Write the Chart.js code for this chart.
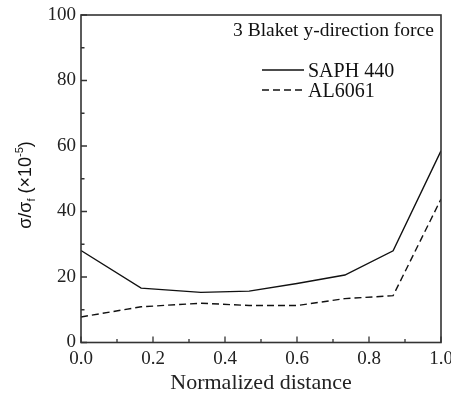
<!DOCTYPE html>
<html lang="en">
<head>
    <meta charset="UTF-8">
    <title>3 Blaket y-direction force</title>
    <script src="https://cdn.jsdelivr.net/npm/chart.js@4.4.1/dist/chart.umd.min.js"></script>
    <style>
        body { margin: 0; background: #fff; }
        #wrap { width: 451px; height: 399px; }
    </style>
</head>
<body>
    <div id="wrap"><canvas id="chart" width="451" height="399"></canvas></div>

    <script>
        // data
        const distance = [0, 0.167, 0.333, 0.467, 0.6, 0.733, 0.867, 1.0];
        const saph440 = [28.1, 16.6, 15.3, 15.7, 18.0, 20.6, 28.0, 58.5];
        const al6061 = [7.8, 10.9, 12.0, 11.3, 11.3, 13.4, 14.3, 43.8];
        const xTicks = [0, 0.2, 0.4, 0.6, 0.8, 1.0];
        const yTicks = [0, 20, 40, 60, 80, 100];
        const legendTitle = '3 Blaket y-direction force';
        const seriesNames = ['SAPH 440', 'AL6061'];

        const serif = '"Liberation Serif", "Times New Roman", serif';
        const ink = '#222';

        function toPoints(ys) {
            return distance.map((x, i) => ({ x: x, y: ys[i] }));
        }

        // frame, inward ticks, legend and y title
        const decor = {
            id: 'decor',
            afterDraw(chart) {
                const ctx = chart.ctx;
                const area = chart.chartArea;
                const xs = chart.scales.x;
                const ys = chart.scales.y;
                ctx.save();
                ctx.strokeStyle = '#333';
                ctx.lineWidth = 1.6;
                ctx.strokeRect(area.left, area.top, area.right - area.left, area.bottom - area.top);

                ctx.lineWidth = 1.3;
                ctx.beginPath();
                for (let i = 0; i < yTicks.length; i++) {
                    const y = ys.getPixelForValue(yTicks[i]);
                    ctx.moveTo(area.left, y);
                    ctx.lineTo(area.left + 6, y);
                    if (i < yTicks.length - 1) {
                        const m = ys.getPixelForValue((yTicks[i] + yTicks[i + 1]) / 2);
                        ctx.moveTo(area.left, m);
                        ctx.lineTo(area.left + 3.5, m);
                    }
                }
                for (let i = 0; i < xTicks.length; i++) {
                    const x = xs.getPixelForValue(xTicks[i]);
                    ctx.moveTo(x, area.bottom);
                    ctx.lineTo(x, area.bottom - 6);
                    if (i < xTicks.length - 1) {
                        const m = xs.getPixelForValue((xTicks[i] + xTicks[i + 1]) / 2);
                        ctx.moveTo(m, area.bottom);
                        ctx.lineTo(m, area.bottom - 3.5);
                    }
                }
                ctx.stroke();

                // legend
                ctx.fillStyle = '#111';
                ctx.font = '19.5px ' + serif;
                ctx.textAlign = 'left';
                ctx.textBaseline = 'alphabetic';
                ctx.fillText(legendTitle, 233, 36);
                ctx.font = '20px ' + serif;
                chart.data.datasets.forEach((ds, i) => {
                    const y = 70 + i * 20;
                    ctx.strokeStyle = ds.borderColor;
                    ctx.lineWidth = ds.borderWidth;
                    ctx.setLineDash(ds.borderDash || []);
                    ctx.beginPath();
                    ctx.moveTo(262, y);
                    ctx.lineTo(304, y);
                    ctx.stroke();
                    ctx.setLineDash([]);
                    ctx.fillText(seriesNames[i], 308, y + 7);
                });

                // y title with sub/superscript
                const big = '18px "Liberation Sans", Arial, sans-serif';
                const small = '11px "Liberation Sans", Arial, sans-serif';
                const parts = [
                    { t: 'σ/σ', f: big, dy: 0 },
                    { t: 'f', f: small, dy: 4 },
                    { t: ' (×10', f: big, dy: 0 },
                    { t: '-5', f: small, dy: -8 },
                    { t: ')', f: big, dy: 0 }
                ];
                let total = 0;
                parts.forEach(p => { ctx.font = p.f; p.w = ctx.measureText(p.t).width; total += p.w; });
                ctx.translate(31, 185);
                ctx.rotate(-Math.PI / 2);
                let cx = -total / 2;
                parts.forEach(p => {
                    ctx.font = p.f;
                    ctx.fillText(p.t, cx, p.dy);
                    cx += p.w;
                });
                ctx.restore();
            }
        };

        new Chart(document.getElementById('chart'), {
            type: 'line',
            data: {
                datasets: [{
                    label: seriesNames[0],
                    data: toPoints(saph440),
                    borderColor: '#111',
                    borderWidth: 1.4,
                    pointRadius: 0,
                    tension: 0
                }, {
                    label: seriesNames[1],
                    data: toPoints(al6061),
                    borderColor: '#111',
                    borderWidth: 1.4,
                    borderDash: [7, 4],
                    pointRadius: 0,
                    tension: 0
                }]
            },
            options: {
                responsive: false,
                animation: false,
                layout: { padding: { top: 15, right: 10, left: 0, bottom: 0 } },
                plugins: { legend: { display: false }, tooltip: { enabled: false } },
                scales: {
                    x: {
                        type: 'linear',
                        min: 0,
                        max: 1,
                        afterBuildTicks(scale) { scale.ticks = xTicks.map(v => ({ value: v })); },
                        afterFit(scale) {
                            scale.height = 56.5;
                            scale.paddingLeft = 0;
                            scale.paddingRight = 0;
                        },
                        grid: { display: false },
                        border: { display: false },
                        ticks: {
                            padding: -3,
                            color: ink,
                            font: { family: serif, size: 19 },
                            maxRotation: 0,
                            callback: v => v.toFixed(1)
                        },
                        title: {
                            display: true,
                            text: 'Normalized distance',
                            color: ink,
                            font: { family: serif, size: 22 },
                            padding: { top: 0, bottom: 3 }
                        }
                    },
                    y: {
                        min: 0,
                        max: 100,
                        afterBuildTicks(scale) { scale.ticks = yTicks.map(v => ({ value: v })); },
                        afterFit(scale) {
                            scale.width = 81;
                            scale.paddingTop = 0;
                            scale.paddingBottom = 0;
                        },
                        grid: { display: false },
                        border: { display: false },
                        ticks: {
                            padding: -3,
                            color: ink,
                            font: { family: serif, size: 19 }
                        }
                    }
                }
            },
            plugins: [decor]
        });
    </script>
</body>
</html>
